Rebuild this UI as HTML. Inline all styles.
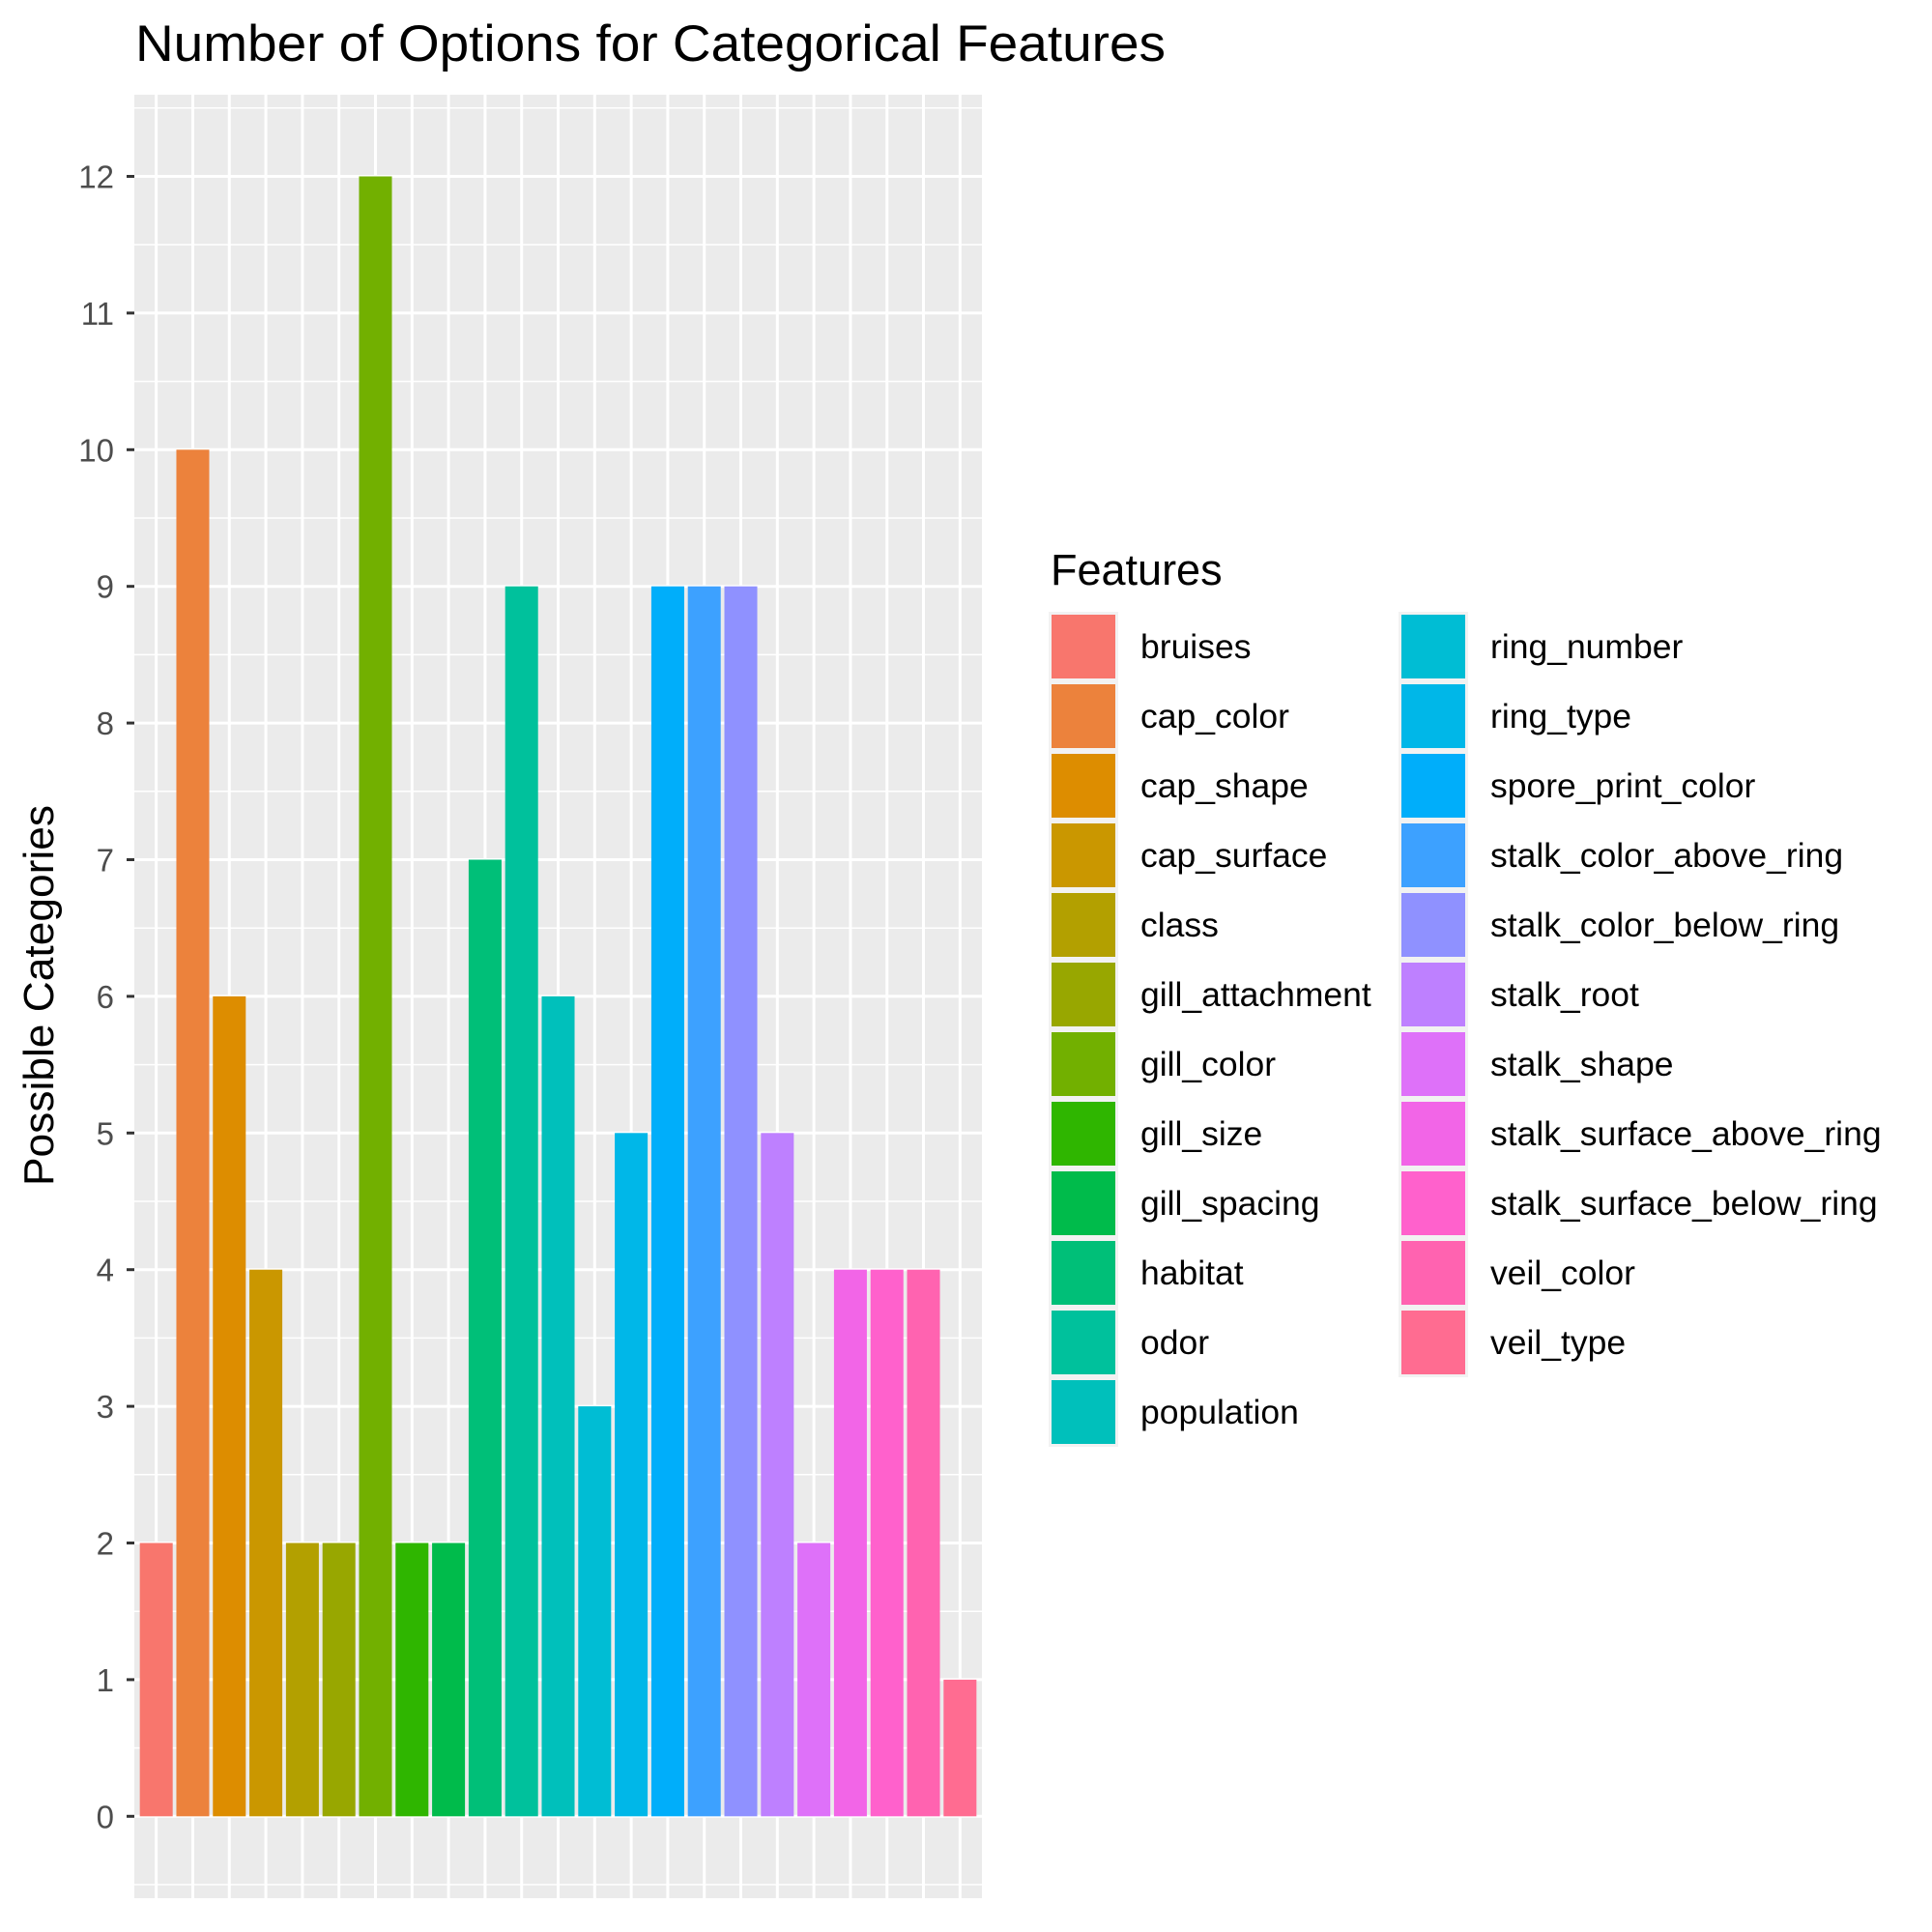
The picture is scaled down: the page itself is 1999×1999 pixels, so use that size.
<!DOCTYPE html>
<html><head><meta charset="utf-8"><style>
html,body{margin:0;padding:0;background:#fff;}
svg{display:block;font-family:"Liberation Sans",Arial,sans-serif;}
</style></head><body>
<svg id="chart" width="1999" height="1999" viewBox="0 0 1999 1999" xmlns="http://www.w3.org/2000/svg">
<text x="140" y="63" font-size="53" fill="#000" textLength="1066" lengthAdjust="spacingAndGlyphs">Number of Options for Categorical Features</text>
<text transform="translate(55,1030) rotate(-90)" text-anchor="middle" font-size="44" fill="#000" textLength="394" lengthAdjust="spacingAndGlyphs">Possible Categories</text>
<rect x="139" y="98" width="877" height="1866" fill="#ebebeb"/>
<g id="grid"></g><g id="bars"></g><g id="yaxis"></g><g id="legend"></g>
</svg>
<script>
const categories = ["bruises","cap_color","cap_shape","cap_surface","class","gill_attachment","gill_color","gill_size","gill_spacing","habitat","odor","population","ring_number","ring_type","spore_print_color","stalk_color_above_ring","stalk_color_below_ring","stalk_root","stalk_shape","stalk_surface_above_ring","stalk_surface_below_ring","veil_color","veil_type"];
const values = [2,10,6,4,2,2,12,2,2,7,9,6,3,5,9,9,9,5,2,4,4,4,1];
const colors = ["#F8766D","#EC823C","#DD8D00","#CA9700","#B3A000","#98A700","#72B000","#2FB600","#00BB4B","#00BF78","#00C19C","#00C0BB","#00BDD4","#00B7E8","#00AEFA","#3DA1FF","#8F91FF","#BE80FF","#DE71F9","#F265E7","#FF61CC","#FF63B0","#FF6C91"];
const yTicks = [0,1,2,3,4,5,6,7,8,9,10,11,12];

const NS="http://www.w3.org/2000/svg";
const PL=139, PR=1016, PT=98, PB=1964;
const y0=1879.3, unit=141.4;
const y = v => y0 - v*unit;
const band = (PR-PL)/(categories.length-1+1.2);
const x = i => PL + (0.6+i)*band;
function mk(tag, attrs, parent){const e=document.createElementNS(NS,tag);for(const k in attrs)e.setAttribute(k,attrs[k]);parent.appendChild(e);return e;}
const grid=document.getElementById('grid'), bars=document.getElementById('bars'), yaxis=document.getElementById('yaxis'), legend=document.getElementById('legend');

for(let v=-0.5; v<=12.5; v+=1){const yy=y(v); if(yy<PT||yy>PB) continue;
  const l=mk('line',{x1:PL,x2:PR,y1:yy,y2:yy,stroke:'#fff','stroke-width':1.5},grid);
  
  }
yTicks.forEach(v=>{const l=mk('line',{x1:PL,x2:PR,y1:y(v),y2:y(v),stroke:'#fff','stroke-width':3},grid);
  
  });
categories.forEach((c,i)=>{const l=mk('line',{x1:x(i),x2:x(i),y1:PT,y2:PB,stroke:'#fff','stroke-width':3},grid);
  
  });

const bw=band*0.9;
categories.forEach((c,i)=>{
  const r=mk('rect',{x:x(i)-bw/2,y:y(values[i]),width:bw,height:y(0)-y(values[i]),fill:colors[i]},bars);
  
  
});

yTicks.forEach(v=>{
  const t=mk('line',{x1:PL-8,x2:PL,y1:y(v),y2:y(v),stroke:'#333','stroke-width':3},yaxis);
  
  
  const tx=mk('text',{x:PL-21,y:y(v)+12,'text-anchor':'end','font-size':33,fill:'#4d4d4d'},yaxis);
  tx.textContent=String(v);
  
  
});

const lt=mk('text',{x:1087,y:605,'font-size':45,fill:'#000'},legend);
lt.textContent='Features';


const rows=12;
categories.forEach((c,i)=>{
  const col=Math.floor(i/rows), row=i%rows;
  const kx= col===0?1085:1447, ky=633+row*72.0;
  const g=mk('g',{},legend);
  
  
  mk('rect',{x:kx,y:ky,width:72,height:72,fill:'#f2f2f2'},g);
  mk('rect',{x:kx+3,y:ky+3,width:66,height:66,fill:colors[i]},g);
  const t=mk('text',{x:kx+95,y:ky+48,'font-size':35.5,fill:'#000'},g);
  t.textContent=c;
});
</script>
</body></html>
